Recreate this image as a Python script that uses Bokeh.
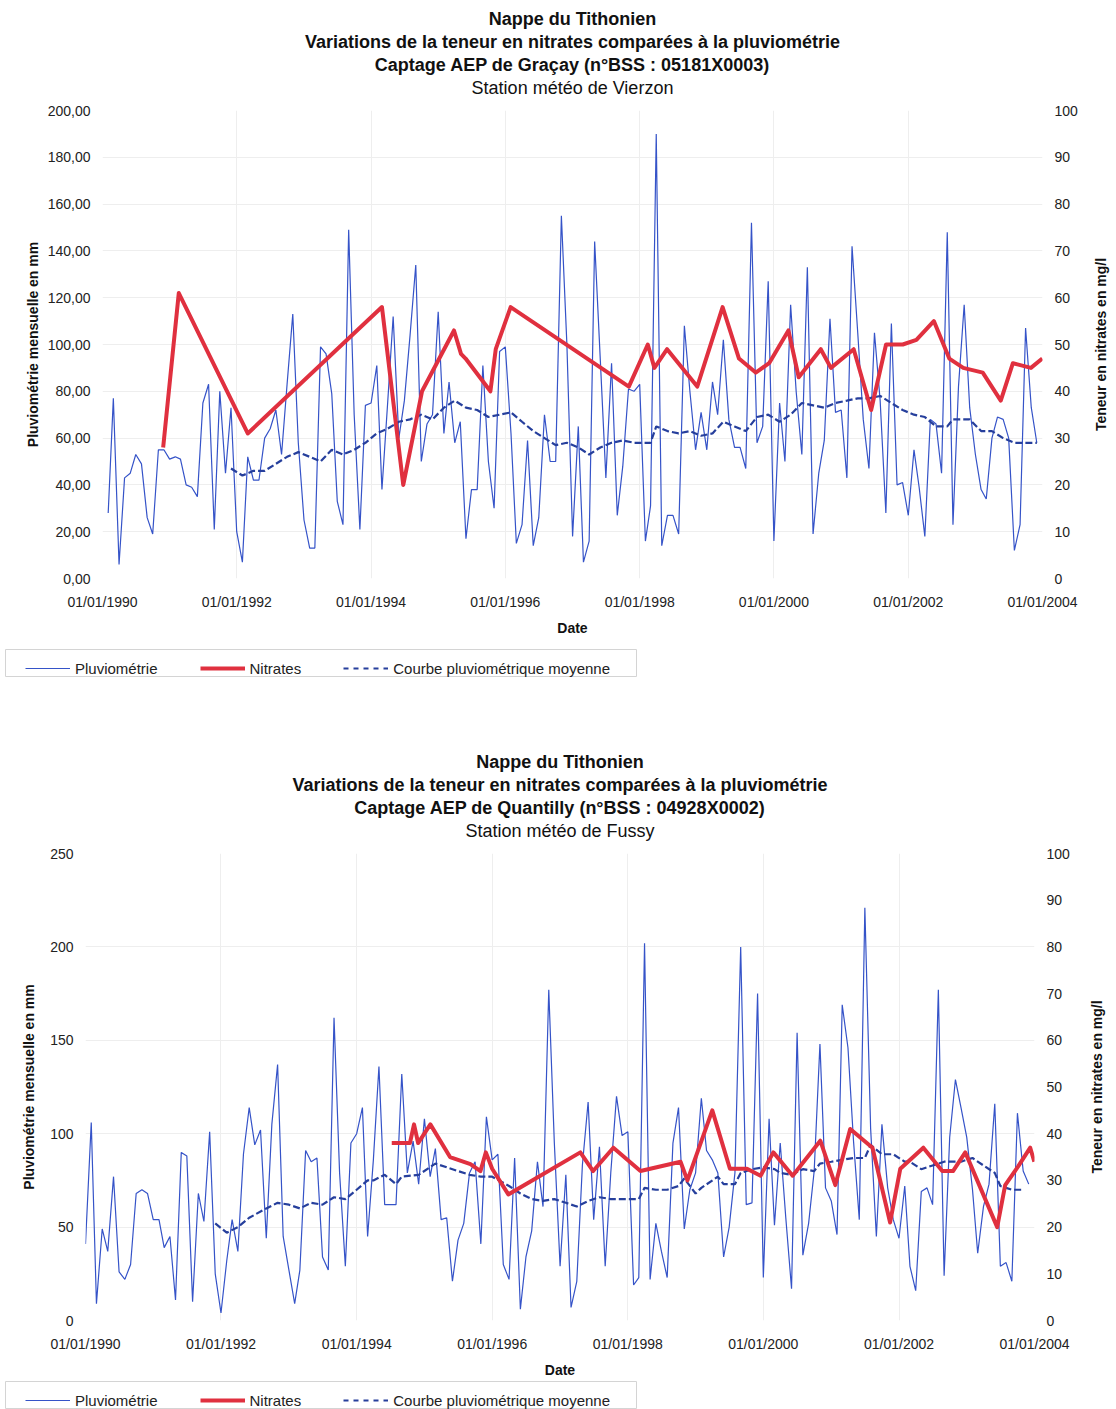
import pandas as pd
from bokeh.plotting import figure
from bokeh.models import (Range1d, LinearAxis, FixedTicker, DatetimeTickFormatter,
                          Title, Legend, LegendItem, ColumnDataSource, Spacer)
from bokeh.layouts import column, row
from bokeh.embed import file_html
from bokeh.resources import INLINE

FONT = "Liberation Sans"

# ---------------- Chart 1 : Graçay / Vierzon ----------------
titles1 = ["Nappe du Tithonien",
           "Variations de la teneur en nitrates comparées à la pluviométrie",
           "Captage AEP de Graçay (n°BSS : 05181X0003)",
           "Station météo de Vierzon"]
pluvio1_start = "1990-02-01"
pluvio1 = [28, 77, 6, 43, 45, 53, 49, 26, 19, 55, 55, 51, 52, 51, 40, 39, 35, 75, 83, 21, 80, 45, 73, 20, 7,
           52, 42, 42, 60, 64, 72, 53, 83, 113,
           58, 25, 13, 13, 99, 96, 79, 33, 23, 149,
           70, 21, 74, 75, 91, 38, 75, 112, 60, 76,
           104, 134,
           50, 66, 70, 114, 62, 84, 58, 67, 17, 38, 38, 91, 50, 30, 97, 99, 62, 15, 23, 59, 14, 26, 70, 50, 50,
           155, 100, 18, 65, 7, 16, 144, 93, 43, 92, 27, 48, 81, 80, 83, 16, 31, 190, 14, 27, 27, 19, 108, 80,
           55, 71, 55, 84, 70, 102,
           68, 56, 56, 47, 152, 58, 65, 127, 16, 75, 50, 117, 80, 53, 133, 19, 45, 59, 111, 71, 72, 43, 142,
           105, 68, 47, 105, 76, 28, 109, 40, 41, 27, 55, 39, 18, 68, 66, 45, 148, 23, 82, 117, 73, 53, 38, 34,
           60, 69, 68, 60, 12, 23, 107, 73, 58]
moy1_dates = ["1991-12-01", "1992-02-01", "1992-04-01", "1992-06-01", "1992-08-01", "1992-10-01", "1992-12-01",
              "1993-02-01", "1993-04-01", "1993-06-01", "1993-08-01", "1993-10-01", "1993-12-01", "1994-02-01",
              "1994-04-01", "1994-06-01", "1994-08-01", "1994-10-01", "1994-12-01", "1995-02-01", "1995-04-01",
              "1995-06-01", "1995-08-01", "1995-10-01", "1995-12-01", "1996-02-01", "1996-04-01", "1996-06-01",
              "1996-08-01", "1996-10-01", "1996-12-01", "1997-02-01", "1997-04-01", "1997-06-01", "1997-08-01",
              "1997-10-01", "1997-12-01", "1998-03-01", "1998-04-01", "1998-06-01", "1998-08-01", "1998-10-01",
              "1998-12-01", "1999-02-01", "1999-04-01", "1999-06-01", "1999-08-01", "1999-10-01", "1999-12-01",
              "2000-02-01", "2000-04-01", "2000-06-01", "2000-08-01", "2000-10-01", "2000-12-01", "2001-02-01",
              "2001-04-01", "2001-06-01", "2001-08-01", "2001-10-01", "2001-12-01", "2002-02-01", "2002-04-01",
              "2002-06-01", "2002-08-01", "2002-09-01", "2002-12-01", "2003-02-01", "2003-04-01", "2003-06-01",
              "2003-08-01", "2003-10-01", "2003-12-01"]
moy1 = [47, 44, 46, 46, 49, 52, 54, 52, 50, 55, 53, 55, 58, 62, 64, 67, 68, 70, 68, 73, 76, 73, 72, 69, 70,
        71, 67, 63, 60, 57, 58, 56, 53, 56, 58, 59, 58, 58, 65, 63, 62, 63, 61, 62, 67, 65, 63, 69, 70, 67,
        70, 75, 74, 73, 75, 76, 77, 77, 78, 75, 72, 70, 69, 65, 65, 68, 68, 63, 63, 60, 58, 58, 58]
no3_1_dates = ["1990-11-27", "1991-02-20", "1992-03-01", "1994-03-01", "1994-06-25", "1994-10-05", "1995-03-28",
               "1995-05-05", "1995-05-30", "1995-10-12", "1995-11-10", "1996-01-30", "1997-11-03", "1998-02-14",
               "1998-03-22", "1998-05-30", "1998-11-10", "1999-03-28", "1999-06-25", "1999-09-24", "1999-12-06",
               "2000-03-20", "2000-05-15", "2000-09-12", "2000-11-06", "2001-03-10", "2001-06-13", "2001-09-02",
               "2001-12-02", "2002-02-14", "2002-05-20", "2002-08-12", "2002-10-27", "2003-02-10", "2003-05-19",
               "2003-07-24", "2003-10-30", "2003-12-31"]
no3_1 = [28, 61, 31, 58, 20, 40, 53, 48, 47, 40, 49, 58, 41, 50, 45, 49, 41, 58, 47, 44, 46, 53, 43, 49, 45,
         49, 36, 50, 50, 51, 55, 47, 45, 44, 38, 46, 45, 47]
y1_ticks = [0, 20, 40, 60, 80, 100, 120, 140, 160, 180, 200]
y1_labels = ["0,00", "20,00", "40,00", "60,00", "80,00", "100,00", "120,00", "140,00", "160,00", "180,00", "200,00"]

# ---------------- Chart 2 : Quantilly / Fussy ----------------
titles2 = ["Nappe du Tithonien",
           "Variations de la teneur en nitrates comparées à la pluviométrie",
           "Captage AEP de Quantilly (n°BSS : 04928X0002)",
           "Station météo de Fussy"]
pluvio2_start = "1990-01-01"
pluvio2 = [41, 106, 9, 49, 37, 77, 26, 22, 30, 68, 70, 68, 54, 54, 39, 45, 11, 90, 88, 10, 68, 53, 101, 25, 4,
           32, 54, 37, 89, 114, 94, 102, 44, 105, 137, 45, 27, 9, 27, 91, 85, 87, 34, 27, 162, 79, 29, 95, 100,
           114, 45, 86, 136, 62, 62, 62, 132,
           79, 96, 73, 108, 77, 92, 54, 55, 21, 43, 52, 79, 85, 41, 109, 86, 89, 30, 22, 87, 6, 34, 48, 85, 61,
           177, 95, 29, 78, 7, 21, 83, 117, 54, 93, 29, 79, 120, 99, 101, 19, 23, 202, 22, 52, 37, 23, 95, 114,
           49, 70, 79, 119, 91,
           86, 79, 34, 50, 79, 200, 62, 63, 175, 23, 108, 51, 95, 55, 17, 154, 35, 52, 80, 148, 71, 64, 46, 169,
           146, 96, 54, 221, 103, 45, 105, 71, 54, 44, 72, 29, 16, 69, 71, 62, 177, 24, 98, 129, 114, 98, 70, 36,
           61, 73, 116, 29, 31, 21, 111, 80, 73]
moy2_dates = ["1991-12-01", "1992-02-01", "1992-04-01", "1992-06-01", "1992-09-01", "1992-11-01", "1993-01-01",
              "1993-03-01", "1993-05-01", "1993-07-01", "1993-09-01", "1993-11-01", "1994-01-01", "1994-03-01",
              "1994-04-01", "1994-06-01", "1994-08-01", "1994-09-01", "1994-12-01", "1995-03-01", "1995-05-01",
              "1995-07-01", "1995-09-01", "1995-11-01", "1996-01-01", "1996-04-01", "1996-06-01", "1996-08-01",
              "1996-10-01", "1996-12-01", "1997-02-01", "1997-04-01", "1997-06-01", "1997-08-01", "1997-10-01",
              "1998-01-01", "1998-03-01", "1998-04-01", "1998-06-01", "1998-08-01", "1998-10-01", "1998-11-01",
              "1999-01-01", "1999-02-01", "1999-05-01", "1999-06-01", "1999-08-01", "1999-09-01", "1999-11-01",
              "2000-01-01", "2000-03-01", "2000-04-01", "2000-06-01", "2000-08-01", "2000-10-01", "2000-11-01",
              "2001-01-01", "2001-03-01", "2001-05-01", "2001-07-01", "2001-08-01", "2001-10-01", "2001-12-01",
              "2002-02-01", "2002-03-01", "2002-05-01", "2002-07-01", "2002-09-01", "2002-11-01", "2002-12-01",
              "2003-02-01", "2003-04-01", "2003-06-01", "2003-07-01", "2003-09-01", "2003-11-01"]
moy2 = [52, 47, 50, 55, 60, 63, 62, 60, 63, 62, 66, 65, 70, 75, 75, 78, 73, 77, 78, 84, 82, 80, 78, 77, 77,
        72, 68, 65, 64, 65, 63, 61, 64, 66, 65, 65, 65, 71, 70, 70, 72, 76, 68, 71, 77, 73, 73, 79, 81, 82,
        81, 79, 78, 81, 80, 84, 85, 86, 87, 87, 94, 89, 89, 85, 85, 81, 83, 85, 85, 85, 87, 83, 79, 72, 70, 70]
no3_2_dates = ["1994-07-09", "1994-09-09", "1994-10-15", "1994-11-06", "1994-11-28", "1995-02-02", "1995-05-19",
               "1995-09-06", "1995-10-30", "1995-11-28", "1996-01-01", "1996-03-28", "1997-04-20", "1997-06-28",
               "1997-10-15", "1998-03-10", "1998-10-12", "1998-11-18", "1999-04-01", "1999-07-05", "1999-10-05",
               "1999-12-17", "2000-02-24", "2000-06-07", "2000-11-03", "2001-01-23", "2001-04-13", "2001-08-11",
               "2001-11-14", "2002-01-08", "2002-05-12", "2002-08-22", "2002-10-19", "2002-12-24", "2003-06-14",
               "2003-07-27", "2003-10-05", "2003-12-09", "2003-12-31"]
no3_2 = [38, 38, 38, 42, 38, 42, 35, 33.5, 32, 36, 32.5, 27, 36, 32, 37, 32, 34, 30, 45, 32.5, 32.5, 31, 36,
         31, 38.5, 29, 41, 37, 21, 32.5, 37, 32, 32, 36, 20, 29, 33, 37, 34]
y2_ticks = [0, 50, 100, 150, 200, 250]
y2_labels = ["0", "50", "100", "150", "200", "250"]

# shared
x_tick_dates = ["1990-01-01", "1992-01-01", "1994-01-01", "1996-01-01", "1998-01-01",
                "2000-01-01", "2002-01-01", "2004-01-01"]
no3_ticks = [0, 10, 20, 30, 40, 50, 60, 70, 80, 90, 100]
legend_labels = ["Pluviométrie", "Nitrates", "Courbe pluviométrique moyenne"]
right_axis_label = "Teneur en nitrates en mg/l"

PLUVIO_COLOR = "#3553c8"
MOY_COLOR = "#263f9c"
NO3_COLOR = "#e0303f"
GRID = "#eeeeee"
W_MAIN = 1080
W_SIDE = 34


def ms(d):
    return int(pd.Timestamp(d).value // 10**6)


def make_chart(titles, pl_start, pl_vals, moy_dates, moy_vals, n_dates, n_vals, y_max, y_ticks, y_labels,
               height, b_left, frame_right, b_top, b_bottom, ylab_standoff):
    p = figure(width=W_MAIN, height=height, x_axis_type="datetime", title=None,
               output_backend="svg", toolbar_location=None,
               min_border_left=b_left, min_border_right=W_MAIN - frame_right,
               min_border_top=b_top, min_border_bottom=b_bottom,
               x_range=Range1d(pd.Timestamp("1990-01-01"), pd.Timestamp("2004-01-01")),
               y_range=Range1d(0, y_max))
    p.outline_line_color = None
    p.background_fill_color = "white"
    p.border_fill_color = "white"
    p.extra_y_ranges = {"no3": Range1d(0, 100)}

    p.add_layout(Title(text=" ", text_font_size="1px", standoff=9), "above")
    for i, t in enumerate(reversed(titles)):
        p.add_layout(Title(text=t, align="center", text_font=FONT, text_font_size="18px",
                           text_font_style="normal" if i == 0 else "bold", text_color="#111111",
                           standoff=1), "above")

    pl_dates = pd.date_range(pl_start, periods=len(pl_vals), freq="MS")
    src_pl = ColumnDataSource(dict(x=pl_dates, y=pl_vals))
    src_moy = ColumnDataSource(dict(x=pd.to_datetime(moy_dates), y=moy_vals))
    src_no3 = ColumnDataSource(dict(x=pd.to_datetime(n_dates), y=n_vals))

    p.line("x", "y", source=src_pl, line_color=PLUVIO_COLOR, line_width=1.2)
    p.line("x", "y", source=src_moy, line_color=MOY_COLOR, line_width=2.2, line_dash="7 3")
    p.line("x", "y", source=src_no3, line_color=NO3_COLOR, line_width=4, y_range_name="no3",
           line_join="round")

    xa = p.xaxis[0]
    xa.ticker = FixedTicker(ticks=[ms(d) for d in x_tick_dates])
    xa.formatter = DatetimeTickFormatter(years="%d/%m/%Y", months="%d/%m/%Y", days="%d/%m/%Y")
    xa.axis_label = "Date"
    xa.axis_label_standoff = 7
    xa.major_label_standoff = 9

    ya = p.yaxis[0]
    ya.ticker = FixedTicker(ticks=y_ticks)
    ya.major_label_overrides = {t: l for t, l in zip(y_ticks, y_labels)}
    ya.axis_label = "Pluviométrie mensuelle en mm"
    ya.axis_label_standoff = ylab_standoff
    ya.major_label_standoff = 6

    ra = LinearAxis(y_range_name="no3", ticker=FixedTicker(ticks=no3_ticks))
    ra.major_label_standoff = 6
    p.add_layout(ra, "right")

    for ax in (xa, ya, ra):
        ax.axis_line_color = None
        ax.major_tick_line_color = None
        ax.minor_tick_line_color = None
        ax.major_label_text_font = FONT
        ax.major_label_text_font_size = "14px"
        ax.major_label_text_color = "#222222"
        ax.axis_label_text_font = FONT
        ax.axis_label_text_font_size = "14px"
        ax.axis_label_text_font_style = "bold"
        ax.axis_label_text_color = "#111111"

    p.xgrid.ticker = FixedTicker(ticks=[ms(d) for d in x_tick_dates])
    p.xgrid.grid_line_color = GRID
    p.ygrid.ticker = FixedTicker(ticks=y_ticks)
    p.ygrid.grid_line_color = GRID
    return p


def make_side(height, b_top, b_bottom, standoff):
    # narrow strip carrying the right-hand axis title, reading bottom-to-top
    s = figure(width=W_SIDE, height=height, output_backend="svg", toolbar_location=None,
               min_border_left=W_SIDE - 4, min_border_right=0, min_border_top=b_top,
               min_border_bottom=b_bottom, x_range=Range1d(0, 1), y_range=Range1d(0, 1))
    s.axis.visible = False
    s.grid.visible = False
    s.outline_line_color = None
    s.title = None
    s.add_layout(Title(text=right_axis_label, align="center", text_font=FONT, text_font_size="14px",
                       text_font_style="bold", text_color="#111111", standoff=standoff), "left")
    return s


def make_legend(height):
    lf = figure(width=632, height=height, output_backend="svg", toolbar_location=None,
                min_border=0, x_range=Range1d(0, 1), y_range=Range1d(0, 1))
    lf.axis.visible = False
    lf.grid.visible = False
    lf.outline_line_color = "#d4d4d4"
    lf.background_fill_color = "white"
    off = [5, 6]  # outside the visible range: only the legend swatches show
    r1 = lf.line(off, off, line_color=PLUVIO_COLOR, line_width=1.2)
    r2 = lf.line(off, off, line_color=NO3_COLOR, line_width=4)
    r3 = lf.line(off, off, line_color=MOY_COLOR, line_width=2.2, line_dash="5 5")
    leg = Legend(items=[LegendItem(label=legend_labels[0], renderers=[r1]),
                        LegendItem(label=legend_labels[1], renderers=[r2]),
                        LegendItem(label=legend_labels[2], renderers=[r3])],
                 orientation="horizontal", location=(20, 0),
                 label_text_font=FONT, label_text_font_size="15px", label_text_color="#222222",
                 glyph_width=45, glyph_height=18, label_standoff=5, spacing=42, padding=5,
                 margin=0, border_line_color=None, background_fill_alpha=0)
    lf.add_layout(leg, "center")
    return lf


H1, T1, B1 = 649, 110, 71
H2, T2, B2 = 704, 176, 61
p1 = make_chart(titles1, pluvio1_start, pluvio1, moy1_dates, moy1, no3_1_dates, no3_1, 200, y1_ticks,
                y1_labels, H1, 102, 1043, T1, B1, 4)
p2 = make_chart(titles2, pluvio2_start, pluvio2, moy2_dates, moy2, no3_2_dates, no3_2, 250, y2_ticks,
                y2_labels, H2, 85, 1034, T2, B2, 10)
s1 = make_side(H1, T1, B1, 3)
s2 = make_side(H2, T2, B2, 13)
leg1 = make_legend(28)
leg2 = make_legend(28)

layout = column(row(p1, s1), row(Spacer(width=5), leg1), row(p2, s2), row(Spacer(width=5), leg2),
                spacing=0)
open("out.html", "w").write(file_html(layout, INLINE))
